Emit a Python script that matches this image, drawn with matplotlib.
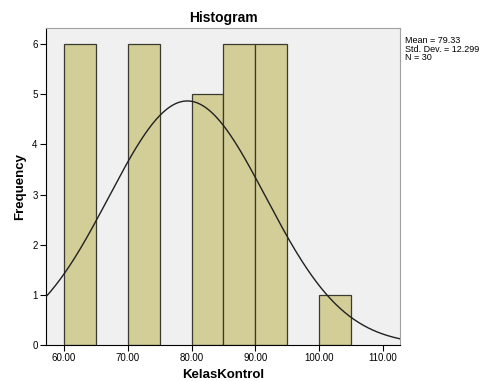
import numpy as np
from matplotlib import pyplot as plt

plt.rcParams['font.family'] = ['Liberation Sans', 'DejaVu Sans']

# histogram bins (left edge, count), bin width 5
bin_left = [60, 70, 80, 85, 90, 100]
counts = [6, 6, 5, 6, 6, 1]
bin_width = 5
mean = 79.33
std = 12.299
n = 30
xticks = [60, 70, 80, 90, 100, 110]

fig = plt.figure(figsize=(4.83, 3.81), dpi=100)
ax = fig.add_axes([0.0952, 0.0945, 0.7328, 0.832])
ax.set_facecolor('#f0f0f0')

ax.bar(bin_left, counts, width=bin_width, align='edge',
       color='#d3ce98', edgecolor='#3a3a30', linewidth=0.9, zorder=2)

xs = np.linspace(57.18, 112.66, 300)
pdf = np.exp(-0.5 * ((xs - mean) / std) ** 2) / (std * np.sqrt(2 * np.pi))
ax.plot(xs, n * bin_width * pdf, color='#202020', linewidth=1.0, zorder=3)

ax.set_xlim(57.18, 112.66)
ax.set_ylim(0, 6.32)
ax.set_xticks(xticks)
ax.set_xticklabels(['%.2f' % v for v in xticks])
ax.set_yticks(range(0, 7))
ax.tick_params(labelsize=7, length=4, width=0.8, direction='out', pad=2)

for s in ['top', 'right']:
    ax.spines[s].set_color('#a0a0a0')
for s in ['left', 'bottom']:
    ax.spines[s].set_color('black')

ax.set_title('Histogram', fontsize=10, fontweight='bold', pad=4)
ax.set_xlabel('KelasKontrol', fontsize=9.5, fontweight='bold', labelpad=4)
ax.set_ylabel('Frequency', fontsize=9.5, fontweight='bold', labelpad=4)

fig.text(0.8385, 0.905, 'Mean = %.2f\nStd. Dev. = %.3f\nN = %d' % (mean, std, n),
         fontsize=6.5, va='top', ha='left', linespacing=0.95)

fig.savefig('out.png', dpi=100)
